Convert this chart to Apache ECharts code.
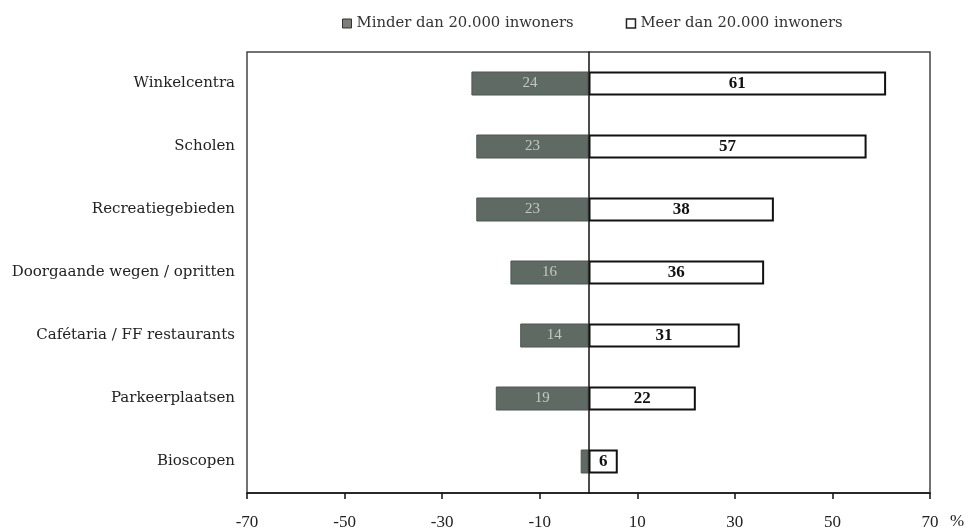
<!DOCTYPE html>
<html><head><meta charset="utf-8">
<script src="https://cdn.jsdelivr.net/npm/echarts@6/dist/echarts.min.js"></script>
<style>html,body{margin:0;padding:0;background:#fff}#c{width:970px;height:532px}</style>
</head><body><div id="c"></div>
<script>
var categories = ["Winkelcentra","Scholen","Recreatiegebieden","Doorgaande wegen / opritten","Cafétaria / FF restaurants","Parkeerplaatsen","Bioscopen"];
var minderValues = [24, 23, 23, 16, 14, 19, 1.6];
var meerValues = [61, 57, 38, 36, 31, 22, 6];
var xTicks = [-70, -50, -30, -10, 10, 30, 50, 70];
var seriesNames = ["Minder dan 20.000 inwoners", "Meer dan 20.000 inwoners"];

var serif = "'Liberation Serif','DejaVu Serif',serif";
var wide = "'DejaVu Serif',serif";
var chart = echarts.init(document.getElementById('c'));
chart.setOption({
  animation: false,
  backgroundColor: '#fff',
  legend: {
    top: 11, left: 337, itemWidth: 9, itemHeight: 9, itemGap: 52,
    textStyle: {fontFamily: wide, fontSize: 14.8, color: '#333'},
    data: [
      {name: seriesNames[0], icon: 'rect', itemStyle: {color: '#7a7f7c', borderColor: '#333', borderWidth: 1}},
      {name: seriesNames[1], icon: 'rect', itemStyle: {color: '#fff', borderColor: '#222', borderWidth: 1.5}}
    ]
  },
  grid: {left: 247, right: 40, top: 52, bottom: 39, show: true, borderColor: '#444', borderWidth: 1.5},
  xAxis: {
    type: 'value', min: -70, max: 70, interval: 20,
    splitLine: {show: false},
    axisLine: {show: true, lineStyle: {color: '#111', width: 1.5}},
    axisTick: {show: true, length: 6, lineStyle: {color: '#111', width: 1.5}},
    axisLabel: {
      margin: 21, fontFamily: serif, fontSize: 17, color: '#222',
      customValues: xTicks,
      formatter: function (v) { return xTicks.indexOf(v) >= 0 ? String(v) : ''; }
    }
  },
  yAxis: {
    type: 'category', inverse: true, data: categories,
    axisLine: {show: true, onZero: true, lineStyle: {color: '#111', width: 1.5}},
    axisTick: {show: false},
    axisLabel: {margin: 12, fontFamily: wide, fontSize: 15, color: '#222'}
  },
  graphic: [{
    type: 'text', left: 950, top: 513,
    style: {text: '%', font: "17px 'Liberation Serif', serif", fill: '#222'}
  }],
  series: [
    {
      name: seriesNames[0], type: 'bar', stack: 's', barWidth: 24,
      data: minderValues.map(function (v) { return -v; }),
      itemStyle: {color: '#5f6a65', borderColor: '#4d5752', borderWidth: 1},
      label: {
        show: true, position: 'inside', fontFamily: serif, fontSize: 15, color: '#c3c8c5',
        formatter: function (p) { var a = Math.abs(p.value); return a < 3 ? '' : String(Math.round(a)); }
      }
    },
    {
      name: seriesNames[1], type: 'bar', stack: 's', barWidth: 24,
      data: meerValues,
      itemStyle: {color: '#fff', borderColor: '#111', borderWidth: 2},
      label: {show: true, position: 'inside', fontFamily: serif, fontSize: 17, fontWeight: 'bold', color: '#111'}
    }
  ]
});
</script></body></html>
